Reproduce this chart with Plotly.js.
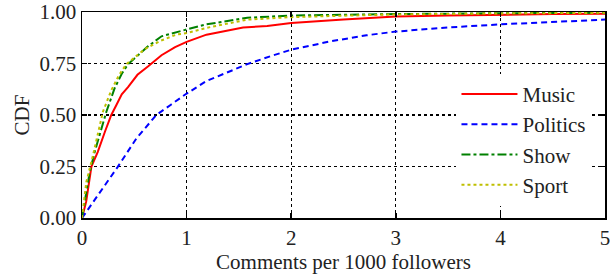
<!DOCTYPE html>
<html>
<head>
<meta charset="utf-8">
<script src="https://cdn.plot.ly/plotly-3.0.1.min.js"></script>
<style>html,body{margin:0;padding:0;background:#fff;}#chart{width:610px;height:280px;}</style>
</head>
<body>
<div id="chart"></div>
<script>
const seriesNames = ["Music", "Politics", "Show", "Sport"];

const musicX = [0, 0.04, 0.09, 0.15, 0.22, 0.28, 0.33, 0.38, 0.44, 0.53, 0.63, 0.76, 0.89, 1.0, 1.19, 1.54, 1.77, 2.0, 2.5, 3.0, 3.5, 4.0, 4.5, 5.0];
const musicY = [0, 0.08, 0.25, 0.32, 0.42, 0.50, 0.55, 0.60, 0.635, 0.695, 0.735, 0.79, 0.83, 0.855, 0.89, 0.925, 0.932, 0.947, 0.963, 0.978, 0.983, 0.988, 0.99, 0.992];

const politicsX = [0, 0.15, 0.34, 0.52, 0.71, 0.85, 0.98, 1.19, 1.4, 1.58, 1.8, 2.0, 2.37, 2.72, 3.0, 3.5, 4.0, 4.5, 5.0];
const politicsY = [0, 0.11, 0.247, 0.386, 0.5, 0.55, 0.597, 0.665, 0.71, 0.747, 0.785, 0.817, 0.857, 0.887, 0.905, 0.925, 0.94, 0.952, 0.963];

const showX = [0, 0.025, 0.074, 0.121, 0.18, 0.233, 0.312, 0.38, 0.44, 0.535, 0.63, 0.76, 0.89, 1.0, 1.19, 1.58, 2.0, 2.5, 3.0, 4.0, 5.0];
const showY = [0, 0.08, 0.223, 0.32, 0.42, 0.516, 0.63, 0.70, 0.747, 0.79, 0.833, 0.882, 0.898, 0.915, 0.94, 0.972, 0.983, 0.988, 0.99, 0.994, 0.996];

const sportX = [0, 0.041, 0.105, 0.16, 0.2, 0.28, 0.35, 0.424, 0.5, 0.6, 0.75, 0.9, 1.0, 1.19, 1.58, 2.0, 2.5, 3.0, 4.0, 5.0];
const sportY = [0, 0.174, 0.304, 0.42, 0.516, 0.62, 0.69, 0.747, 0.78, 0.82, 0.86, 0.89, 0.898, 0.923, 0.963, 0.975, 0.982, 0.988, 0.993, 0.996];

const xTicks = [0, 1, 2, 3, 4, 5];
const yTicks = [0, 0.25, 0.5, 0.75, 1.0];
const yTickText = ["0.00", "0.25", "0.50", "0.75", "1.00"];

const FONT = "Liberation Serif";
const styles = [
  {color: "#ff0000", dash: "solid"},
  {color: "#0000ff", dash: "6px,4px"},
  {color: "#008000", dash: "dashdot"},
  {color: "#bfbf00", dash: "dot"}
];
const xs = [musicX, politicsX, showX, sportX];
const ys = [musicY, politicsY, showY, sportY];

const traces = seriesNames.map((n, i) => ({
  type: "scatter", mode: "lines", name: n,
  x: xs[i], y: ys[i], legendgroup: "g" + i,
  line: {color: styles[i].color, dash: styles[i].dash, width: 2}
}));

const axisCommon = {
  showline: true, linecolor: "#000", linewidth: 1.5, mirror: "ticks",
  ticks: "inside", ticklen: 5, tickwidth: 1.5, tickcolor: "#000",
  showgrid: true, gridcolor: "#000", gridwidth: 1.2, griddash: "dot",
  zeroline: false, ticklabeloverflow: "allow",
  tickfont: {family: FONT, size: 21, color: "#222"}
};

const layout = {
  width: 610, height: 280,
  margin: {l: 82, r: 5, t: 12, b: 62},
  paper_bgcolor: "#fff", plot_bgcolor: "#fff",
  font: {family: FONT, size: 21, color: "#222"},
  xaxis: Object.assign({}, axisCommon, {
    range: [0, 5], tickvals: xTicks, ticktext: xTicks.map(String),
    title: {text: "Comments per 1000 followers", font: {family: FONT, size: 21, color: "#222"}, standoff: 4}
  }),
  yaxis: Object.assign({}, axisCommon, {
    range: [0, 1], tickvals: yTicks, ticktext: yTickText,
    title: {text: "CDF", font: {family: FONT, size: 21, color: "#222"}, standoff: 4}
  }),
  showlegend: true,
  legend: {
    x: 0.716, y: 0.70, xanchor: "left", yanchor: "top",
    bgcolor: "#fff", borderwidth: 0, itemwidth: 56,
    traceorder: "grouped", tracegroupgap: 0,
    font: {family: FONT, size: 21, color: "#222"}
  }
};

Plotly.newPlot("chart", traces, layout, {displayModeBar: false, staticPlot: true});
</script>
</body>
</html>
